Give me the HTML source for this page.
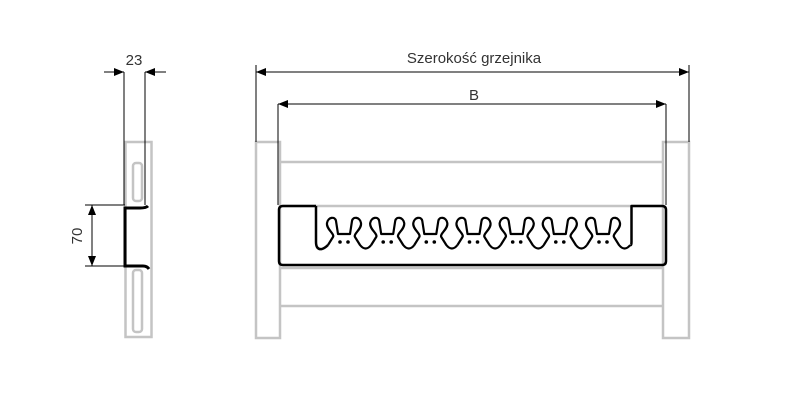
<!DOCTYPE html>
<html><head><meta charset="utf-8"><style>body{margin:0;background:#fff}svg{display:block}</style></head><body>
<svg width="806" height="416" viewBox="0 0 806 416" xmlns="http://www.w3.org/2000/svg" font-family="Liberation Sans, sans-serif">
<defs>
<marker id="a" markerWidth="10" markerHeight="8" refX="10" refY="4" orient="auto-start-reverse" markerUnits="userSpaceOnUse"><path d="M0,0 L10,4 L0,8z" fill="#000"/></marker>
<g id="bn">
<path d="M-16 245 L-11 237 C-9 234 -18 229 -17 223 C-16 217 -9 216 -8 221 L-6 234 L6 234 L8 221 C9 216 16 217 17 223 C18 229 9 234 11 237 L16 245 Q21.6 252 27.2 245" fill="none" stroke="#000" stroke-width="2.2" stroke-linejoin="round"/>
<circle cx="-4" cy="242" r="1.8" fill="#000"/><circle cx="4" cy="242" r="1.8" fill="#000"/>
</g>
</defs>
<g fill="none" stroke="#c4c4c4" stroke-width="2.5">
<rect x="125.5" y="142" width="26" height="195"/>
<rect x="133" y="163" width="9" height="38" rx="3"/>
<rect x="133" y="270" width="9" height="62" rx="3"/>
<rect x="256" y="142" width="24" height="196"/>
<rect x="663" y="142" width="26" height="196"/>
<path d="M280 162H663M280 206H663M280 268H663M280 306H663"/>
</g>
<g stroke="#000" stroke-width="1" fill="none">
<path d="M124 72V205M145 72V205"/>
<path d="M104 72H124" marker-end="url(#a)"/><path d="M166 72H145" marker-end="url(#a)"/>
<path d="M85 205H125M85 266H125"/>
<path d="M92 205V266" marker-start="url(#a)" marker-end="url(#a)"/>
<path d="M256 65V142M689 65V142M278 104V205M666 104V205"/>
<path d="M256 72H689" marker-start="url(#a)" marker-end="url(#a)"/>
<path d="M278 104H666" marker-start="url(#a)" marker-end="url(#a)"/>
</g>
<path d="M148 206Q146 208 140 208H125V266H143Q147 266 149 269" fill="none" stroke="#000" stroke-width="3"/>
<path fill="none" stroke="#000" stroke-width="2.5" stroke-linejoin="round" d="M316 206H283Q279 206 279 210V261Q279 265 283 265H662Q666 265 666 261V210Q666 206 662 206H631.5V242Q631.5 246 630 245"/>
<path fill="none" stroke="#000" stroke-width="2.5" stroke-linejoin="round" d="M316 206V242Q316 250 322 249Q325 248 328 245"/>
<use href="#bn" transform="translate(344,0)"/>
<use href="#bn" transform="translate(387.2,0)"/>
<use href="#bn" transform="translate(430.3,0)"/>
<use href="#bn" transform="translate(473.5,0)"/>
<use href="#bn" transform="translate(516.7,0)"/>
<use href="#bn" transform="translate(559.8,0)"/>
<use href="#bn" transform="translate(603,0)"/>
<g fill="#333" font-size="15">
<text x="474" y="63" text-anchor="middle">Szerokość grzejnika</text>
<text x="474" y="100" text-anchor="middle">B</text>
<text x="134" y="65" text-anchor="middle">23</text>
<text transform="translate(82,236) rotate(-90)" text-anchor="middle">70</text>
</g>
</svg>
</body></html>
